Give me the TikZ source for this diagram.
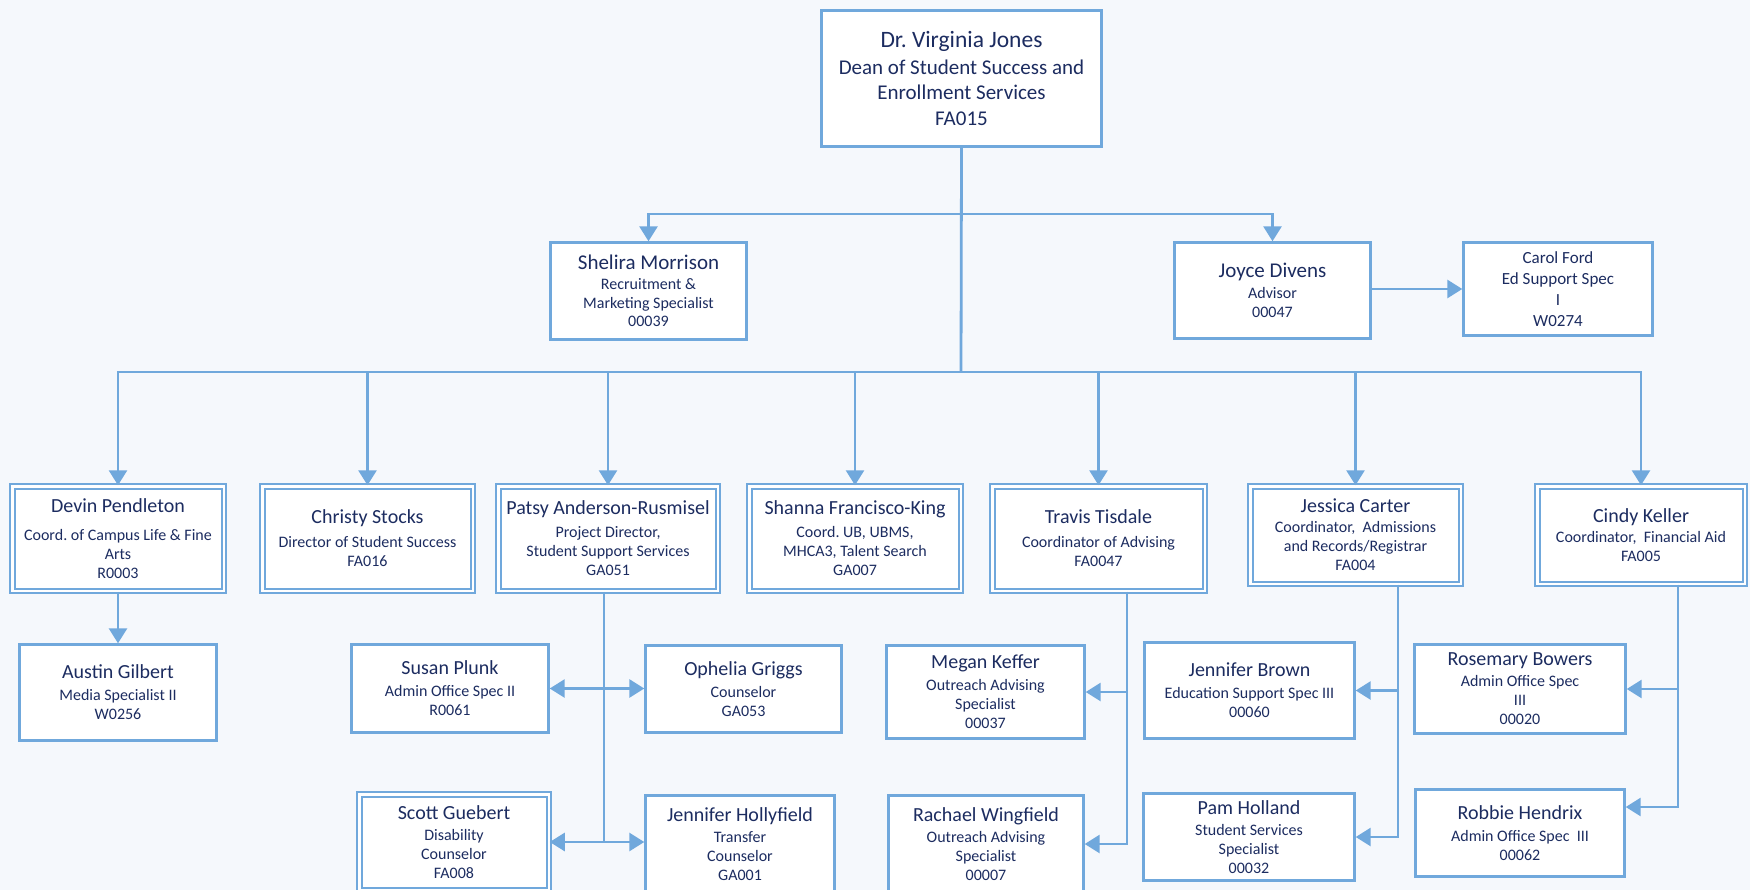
\documentclass[tikz,border=0pt]{standalone}
\usepackage{fontspec}
\setmainfont{Carlito}
\usetikzlibrary{arrows.meta}
\definecolor{lineblue}{RGB}{112,168,220}
\definecolor{txt}{RGB}{28,44,96}
\definecolor{bgc}{RGB}{245,248,252}
\newcommand\nmf{\fontsize{20}{24}\selectfont}
\newcommand\nmfl{\fontsize{21}{25}\selectfont}
\frenchspacing
\begin{document}
\begin{tikzpicture}[x=1pt,y=-1pt,
  box/.style={draw=lineblue, line width=2.4pt, fill=white, text=txt, align=center, inner sep=0pt, font=\fontsize{16}{19}\selectfont},
  dbox/.style={box, line width=2pt, double=white, double distance=2.5pt},
  conn/.style={draw=lineblue, line width=2.8pt},
  arr/.style={conn, -{Triangle[length=15pt,width=18pt]}}
]
\fill[bgc] (0,0) rectangle (1750,890);
\useasboundingbox (0,0) rectangle (1750,890);
\clip (0,0) rectangle (1750,890);

% top
\node[box, minimum width=280, minimum height=136, font=\fontsize{21}{25.5}\selectfont] (top) at (961.5,78.5)
  {{\fontsize{23.5}{27}\selectfont Dr. Virginia Jones}\\[1pt] Dean of Student Success and\\ Enrollment Services\\ FA015};

% level 1
\node[box, minimum width=196, minimum height=97, font=\fontsize{16}{18.5}\selectfont] (shelira) at (648.5,291)
  {{\nmfl Shelira Morrison}\\[2pt] Recruitment \&\\ Marketing Specialist\\ 00039};
\node[box, minimum width=196, minimum height=96, font=\fontsize{16}{19}\selectfont] (joyce) at (1272.5,290.5)
  {{\nmfl Joyce Divens}\\[2pt] Advisor\\ 00047};
\node[box, minimum width=189, minimum height=93, font=\fontsize{17}{21}\selectfont] (carol) at (1558,289)
  {Carol Ford\\ Ed Support Spec\\ I\\ W0274};

% level 2
\node[dbox, minimum width=211.5, minimum height=104.5] (devin) at (118,538.5)
  {{\nmf Devin Pendleton}\\[9pt] Coord. of Campus Life \& Fine\\ Arts\\ R0003};
\node[dbox, minimum width=210.5, minimum height=104.5] (christy) at (367.5,538.5)
  {{\nmf Christy Stocks}\\[5pt] Director of Student Success\\ FA016};
\node[dbox, minimum width=219.5, minimum height=104.5] (patsy) at (608,538.5)
  {{\nmf Patsy Anderson-Rusmisel}\\[4pt] Project Director,\\ Student Support Services\\ GA051};
\node[dbox, minimum width=211.5, minimum height=104.5] (shanna) at (855,538.5)
  {{\nmf Shanna Francisco-King}\\[4pt] Coord. UB, UBMS,\\ MHCA3, Talent Search\\ GA007};
\node[dbox, minimum width=212.5, minimum height=104.5] (travis) at (1098.5,538.5)
  {{\nmf Travis Tisdale}\\[5pt] Coordinator of Advising\\ FA0047};
\node[dbox, minimum width=210.5, minimum height=97.5] (jessica) at (1355.5,535)
  {{\nmf Jessica Carter}\\[1pt] Coordinator,~ Admissions\\ and Records/Registrar\\ FA004};
\node[dbox, minimum width=207.5, minimum height=97.5] (cindy) at (1641,535)
  {{\nmf Cindy Keller}\\[1pt] Coordinator,~ Financial Aid\\ FA005};

% level 3
\node[box, minimum width=197, minimum height=96] (austin) at (118,692.5)
  {{\nmf Austin Gilbert}\\[3pt] Media Specialist II\\ W0256};
\node[box, minimum width=197, minimum height=88] (susan) at (450,688.5)
  {{\nmf Susan Plunk}\\[3pt] Admin Office Spec II\\ R0061};
\node[box, minimum width=196, minimum height=87] (ophelia) at (743.5,689)
  {{\nmf Ophelia Griggs}\\[3pt] Counselor\\ GA053};
\node[box, minimum width=198, minimum height=93] (megan) at (985.5,692)
  {{\nmf Megan Keffer}\\[3pt] Outreach Advising\\ Specialist\\ 00037};
\node[box, minimum width=210, minimum height=96] (jbrown) at (1249.5,690.5)
  {{\nmf Jennifer Brown}\\[3pt] Education Support Spec III\\ 00060};
\node[box, minimum width=211, minimum height=89] (rosemary) at (1520,689)
  {{\nmf Rosemary Bowers}\\[2pt] Admin Office Spec\\ III\\ 00020};

% level 4
\node[dbox, minimum width=189.5, minimum height=95.5] (scott) at (454,842)
  {{\nmf Scott Guebert}\\[2pt] Disability\\ Counselor\\ FA008};
\node[box, minimum width=189, minimum height=97] (jholly) at (740,844)
  {{\nmf Jennifer Hollyfield}\\[2pt] Transfer\\ Counselor\\ GA001};
\node[box, minimum width=195, minimum height=97] (rachael) at (986,844)
  {{\nmf Rachael Wingfield}\\[2pt] Outreach Advising\\ Specialist\\ 00007};
\node[box, minimum width=211, minimum height=87] (pam) at (1249,837)
  {{\nmf Pam Holland}\\[2pt] Student Services\\ Specialist\\ 00032};
\node[box, minimum width=209, minimum height=87] (robbie) at (1520,833)
  {{\nmf Robbie Hendrix}\\[3pt] Admin Office Spec~ III\\ 00062};

% connectors
\coordinate (bus1) at (961,214);
\coordinate (bus2) at (961,372);
\draw[conn] (top.south) -- (bus2);
\draw[arr] (bus1) -| (shelira.north);
\draw[arr] (bus1) -| (joyce.north);
\draw[arr] ([yshift=1.5pt]joyce.east) -- (carol.west);
\foreach \n in {devin,christy,patsy,shanna,travis,jessica,cindy}
  \draw[arr] (bus2) -| (\n.north);

\draw[arr] (devin.south) -- (austin.north);

\coordinate (p1) at ([xshift=-4pt]patsy.south |- susan.east);
\coordinate (p2) at ([xshift=-4pt]patsy.south |- scott.east);
\draw[conn] ([xshift=-4pt]patsy.south) -- (p2);
\draw[arr] (p1) -- (susan.east);
\draw[arr] (p1) -- (ophelia.west |- p1);
\draw[arr] (p2) -- (scott.east);
\draw[arr] (p2) -- (jholly.west |- p2);

\draw[arr] ([xshift=28.5pt]travis.south) |- (megan.east);
\draw[arr] ([xshift=28.5pt]travis.south) |- (rachael.east);
\draw[arr] ([xshift=42.5pt]jessica.south) |- (jbrown.east);
\draw[arr] ([xshift=42.5pt]jessica.south) |- (pam.east);
\draw[arr] ([xshift=37pt]cindy.south) |- (rosemary.east);
\draw[arr] ([xshift=37pt]cindy.south) |- ([yshift=26pt]robbie.east);
\end{tikzpicture}
\end{document}
